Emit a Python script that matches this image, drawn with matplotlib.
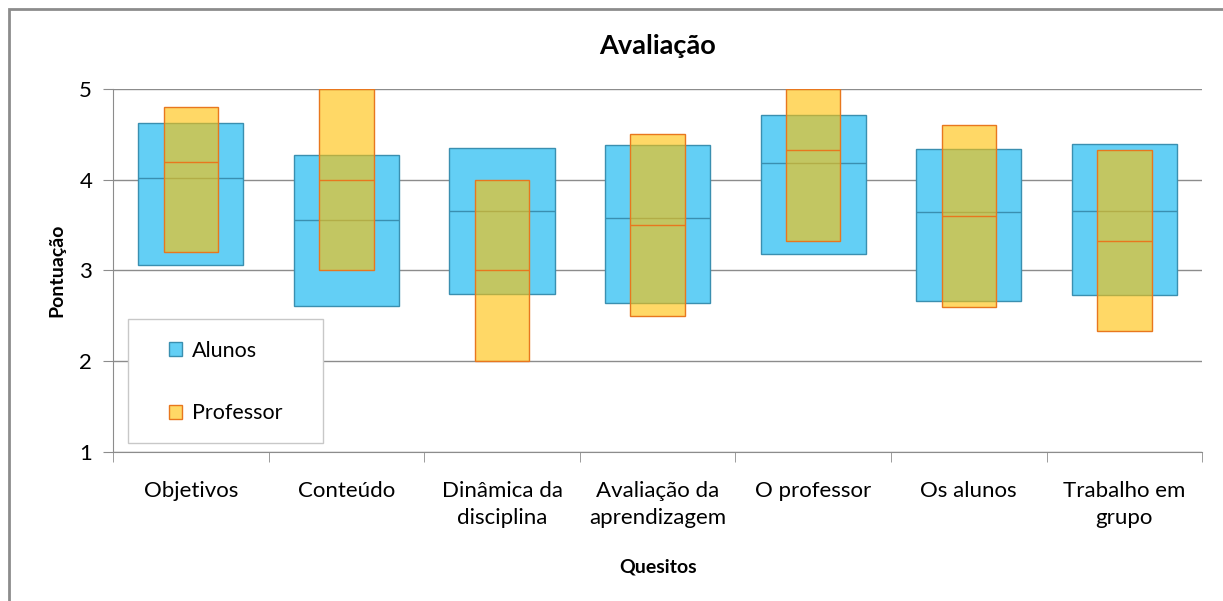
import numpy as np
import matplotlib.pyplot as plt
from matplotlib.patches import Patch, Rectangle

# categories and values
quesitos = ['Objetivos', 'Conteúdo', 'Dinâmica da\ndisciplina', 'Avaliação da\naprendizagem',
            'O professor', 'Os alunos', 'Trabalho em\ngrupo']

alunos_low = [3.06, 2.61, 2.74, 2.64, 3.18, 2.66, 2.73]
alunos_mid = [4.02, 3.56, 3.65, 3.58, 4.18, 3.64, 3.66]
alunos_high = [4.63, 4.27, 4.35, 4.38, 4.71, 4.34, 4.39]

prof_low = [3.2, 3.0, 2.0, 2.5, 3.33, 2.6, 2.33]
prof_mid = [4.2, 4.0, 3.0, 3.5, 4.33, 3.6, 3.33]
prof_high = [4.8, 5.0, 4.0, 4.5, 5.0, 4.6, 4.33]

plt.rcParams['font.family'] = ['Lato', 'DejaVu Sans']

fig = plt.figure(figsize=(12.23, 6.01), dpi=100)
ax = fig.add_axes([0.0924, 0.248, 0.8906, 0.604])

x = np.arange(len(quesitos))
wa, wp = 0.675, 0.35
blue, blue_edge = '#63CFF5', '#3A8FB0'
orange_face = (1.0, 193 / 255, 6 / 255, 0.615)
orange_edge = '#E8771E'

alow, amid, ahigh = map(np.array, (alunos_low, alunos_mid, alunos_high))
plow, pmid, phigh = map(np.array, (prof_low, prof_mid, prof_high))

ax.bar(x, ahigh - alow, wa, bottom=alow, color=blue, edgecolor=blue_edge, linewidth=1, zorder=2)
ax.hlines(amid, x - wa / 2, x + wa / 2, color=blue_edge, linewidth=1, zorder=2)
ax.bar(x, phigh - plow, wp, bottom=plow, color=orange_face, edgecolor=orange_edge, linewidth=1, zorder=3)
ax.hlines(pmid, x - wp / 2, x + wp / 2, color=orange_edge, linewidth=1, zorder=3)

ax.set_xlim(-0.5, len(quesitos) - 0.5)
ax.set_ylim(1, 5)
ax.set_yticks([1, 2, 3, 4, 5])
ax.yaxis.grid(True, color='#8c8c8c', linewidth=1)
ax.set_axisbelow(True)

ax.set_xticks(x)
ax.set_xticklabels(quesitos, fontsize=16, linespacing=1.4)
ax.set_xticks(np.arange(-0.5, len(quesitos)), minor=True)
ax.tick_params(axis='x', which='major', length=0, pad=21)
ax.tick_params(axis='x', which='minor', length=7, color='#8c8c8c', direction='out')
ax.tick_params(axis='y', length=7, color='#8c8c8c', labelsize=16, pad=8)

for s in ['top', 'right']:
    ax.spines[s].set_visible(False)
for s in ['left', 'bottom']:
    ax.spines[s].set_color('#8c8c8c')

ax.set_title('Avaliação', fontsize=19.5, fontweight='bold', pad=25)
ax.set_ylabel('Pontuação', fontsize=14, fontweight='bold', labelpad=10)
ax.set_xlabel('Quesitos', fontsize=14, fontweight='bold', labelpad=22)

# legend box drawn separately so it can be wider than its entries
ax.add_patch(Rectangle((0.0138, 0.0248), 0.179, 0.3412, transform=ax.transAxes,
                       facecolor='white', edgecolor='#c8c8c8', linewidth=1, zorder=4))
handles = [Patch(facecolor=blue, edgecolor=blue_edge, label='Alunos'),
           Patch(facecolor='#FFD966', edgecolor=orange_edge, label='Professor')]
leg = ax.legend(handles=handles, loc='upper left', bbox_to_anchor=(0.0515, 0.306),
                fontsize=15.5, frameon=False, borderpad=0, labelspacing=1.98,
                handlelength=0.62, handleheight=0.62, handletextpad=0.45, borderaxespad=0)
leg.set_zorder(5)

# chart frame: only top and left edges fall inside the image
fig.patches.append(Rectangle((9 / 1223, -0.1), 1.2, 1.1 - 9 / 601, transform=fig.transFigure,
                             fill=False, edgecolor='#8c8c8c', linewidth=2))

fig.savefig('out.png', dpi=100)
